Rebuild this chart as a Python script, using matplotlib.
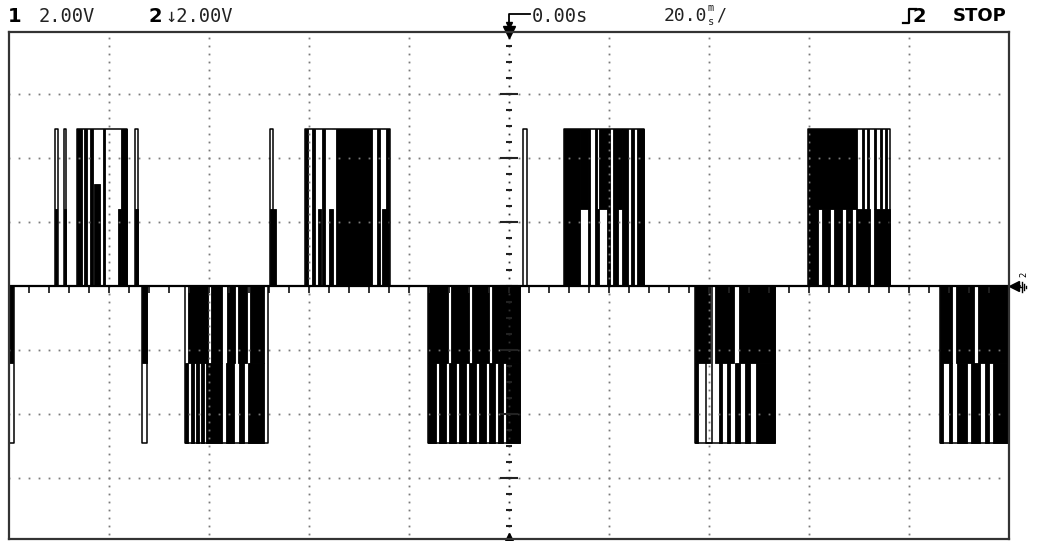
import numpy as np
import matplotlib.pyplot as plt
from matplotlib.patches import Rectangle
from matplotlib.lines import Line2D

# scope settings
t_div = 20.0          # ms / div
v_div = 2.0           # V / div
E1, E2 = 2.4, 4.9     # the two voltage steps of the inverter output

# pulse groups: (t_start ms, t_end ms) where the trace reaches +/-E2 (outlined)
pos_spans = [(-90.8, -90.3), (-89.0, -88.6), (-86.4, -76.4), (-74.8, -74.2),
             (-47.8, -47.2), (-40.8, -23.8),
             (2.8, 3.6), (11.0, 27.0),
             (59.8, 76.2)]
neg_spans = [(-100.0, -99.0), (-73.4, -72.4), (-64.8, -48.2),
             (-16.2, 2.2), (37.2, 53.2), (39.4, 40.6), (86.2, 99.8)]

# solid black columns: (t_start, t_end, v_low, v_high)
blocks = [
    # positive group 1
    (-90.8, -90.4, 0, E1), (-89.0, -88.6, 0, E1), (-86.4, -85.4, 0, E2),
    (-85.0, -84.4, 0, E2), (-83.8, -83.2, 0, E2), (-83.0, -81.8, 0, 3.2),
    (-81.2, -80.8, 0, E2), (-78.2, -77.6, 0, E1), (-77.6, -76.4, 0, E2),
    (-74.8, -74.2, 0, E1),
    # positive group 2
    (-47.8, -46.6, 0, E1), (-40.8, -40.2, 0, E2), (-39.4, -38.8, 0, E2),
    (-38.2, -37.6, 0, E1), (-37.4, -36.8, 0, E2), (-36.0, -35.2, 0, E1),
    (-34.6, -27.4, 0, E2), (-26.4, -25.8, 0, E2), (-25.4, -24.4, 0, E1),
    (-24.6, -24.0, 0, E2),
    # positive group 3
    (11.0, 14.2, 0, E2), (14.2, 15.8, E1, E2), (15.8, 16.2, 0, E2),
    (17.2, 17.6, 0, E2), (18.0, 19.6, E1, E2), (19.6, 20.2, 0, E2),
    (20.8, 21.2, 0, E2), (21.2, 22.6, E1, E2), (22.6, 23.8, 0, E2),
    (24.4, 25.0, 0, E2), (25.6, 27.0, 0, E2), (17.6, 18.0, 0, E1),
    (21.0, 21.8, 0, E1),
    # positive group 4
    (59.8, 69.6, E1, E2), (59.8, 61.8, 0, E1), (62.6, 64.2, 0, E1),
    (65.0, 66.6, 0, E1), (67.4, 68.6, 0, E1), (69.4, 72.2, 0, E1),
    (73.0, 76.2, 0, E1), (70.6, 71.0, E1, E2), (71.6, 72.0, E1, E2),
    (73.0, 73.4, E1, E2), (74.2, 74.6, E1, E2), (75.2, 75.6, E1, E2),
    # negative groups
    (-100.0, -99.2, -E1, 0), (-73.4, -72.4, -E1, 0),
    (-64.2, -60.2, -E1, 0), (-59.6, -57.4, -E1, 0), (-56.4, -54.8, -E1, 0),
    (-54.2, -52.4, -E1, 0), (-51.8, -49.0, -E1, 0),
    (-64.8, -64.2, -E2, -E1), (-63.6, -63.0, -E2, -E1), (-62.6, -62.0, -E2, -E1),
    (-61.6, -61.0, -E2, -E1), (-60.6, -57.4, -E2, -E1), (-56.6, -55.0, -E2, -E1),
    (-54.0, -53.0, -E2, -E1), (-52.2, -49.0, -E2, -E1),
    (-16.2, -12.2, -E1, 0), (-11.6, -8.0, -E1, 0), (-7.4, -4.0, -E1, 0),
    (-3.4, 2.2, -E1, 0),
    (-16.2, -14.6, -E2, -E1), (-14.0, -12.6, -E2, -E1), (-12.0, -10.6, -E2, -E1),
    (-10.0, -8.6, -E2, -E1), (-8.0, -6.6, -E2, -E1), (-6.0, -4.6, -E2, -E1),
    (-4.0, -2.8, -E2, -E1), (-2.2, -1.2, -E2, -E1), (-0.6, 2.2, -E2, -E1),
    (37.2, 40.2, -E1, 0), (41.2, 45.0, -E1, 0), (46.0, 53.2, -E1, 0),
    (37.2, 37.8, -E2, -E1), (42.0, 42.6, -E2, -E1), (43.6, 44.2, -E2, -E1),
    (45.2, 46.2, -E2, -E1), (47.2, 48.2, -E2, -E1), (49.4, 53.2, -E2, -E1),
    (86.2, 88.6, -E1, 0), (89.4, 93.0, -E1, 0), (93.8, 99.8, -E1, 0),
    (86.2, 86.8, -E2, -E1), (88.0, 88.6, -E2, -E1), (89.6, 91.6, -E2, -E1),
    (92.4, 94.2, -E2, -E1), (95.2, 96.0, -E2, -E1), (96.8, 99.8, -E2, -E1),
]

t_min, t_max = -100.0, 100.0
v_min, v_max = -7.9, 7.94

fig = plt.figure(figsize=(10.37, 5.41), dpi=100)
ax = fig.add_axes([9 / 1037, 2 / 541, 1000 / 1037, 507 / 541])
ax.set_xlim(t_min, t_max)
ax.set_ylim(v_min, v_max)
ax.set_xticks([])
ax.set_yticks([])
for s in ax.spines.values():
    s.set_linewidth(1.6)
    s.set_color('#333333')

# dotted graticule
grid_col = '#7a7a7a'
for k in (-4, -3, -2, -1, 1, 2, 3, 4):
    vv = np.arange(-4 * v_div, 4 * v_div + 0.01, v_div / 8)
    ax.plot(np.full_like(vv, k * t_div), vv, ls='none', marker='s', ms=1.3, color=grid_col, mew=0)
for k in (-3, -2, -1, 1, 2, 3):
    tt = np.arange(t_min, t_max + 0.01, t_div / 10)
    ax.plot(tt, np.full_like(tt, k * v_div), ls='none', marker='s', ms=1.3, color=grid_col, mew=0)

# centre axes with tick marks
vv = np.arange(-4 * v_div, 4 * v_div + 0.01, v_div / 8)
ax.plot(np.zeros_like(vv), vv, ls='none', marker='s', ms=1.3, color='#333333', mew=0)
vt = np.arange(-4 * v_div, 4 * v_div + 0.01, v_div / 4)
ax.plot(np.zeros_like(vt), vt, ls='none', marker='_', ms=5, mew=1.5, color='#222222')
ax.plot(np.zeros(7), [-6, -4, -2, 0, 2, 4, 6], ls='none', marker='_', ms=13, mew=1.5,
        color='#222222')
tt = np.arange(t_min, t_max + 0.01, t_div / 5)
ax.plot(tt, np.full_like(tt, -0.12), ls='none', marker='|', ms=4, mew=1.3, color='#222222')

# trace: baseline, outlined pulses, solid blocks
ax.plot([t_min, t_max], [0, 0], color='black', lw=1.6, solid_capstyle='butt')
for t0, t1 in pos_spans:
    ax.plot([t0, t0, t1, t1], [0, E2, E2, 0], color='black', lw=1.1)
for t0, t1 in neg_spans:
    ax.plot([t0, t0, t1, t1], [0, -E2, -E2, 0], color='black', lw=1.1)
for t0, t1, lo, hi in blocks:
    ax.add_patch(Rectangle((t0, lo), t1 - t0, hi - lo, facecolor='black', edgecolor='black', lw=0.6))

# trigger position markers
ax.plot([0], [v_max], marker='v', ms=9, color='black', clip_on=False)
ax.plot([0], [v_min], marker='^', ms=9, color='black', clip_on=False)
# channel 2 ground marker: arrow, "2" and ground sign
ax.plot([t_max + 1.0], [0], marker='<', ms=7, color='black', clip_on=False)
ax.plot([t_max + 1.0, t_max + 2.2], [0, 0], color='black', lw=1.2, clip_on=False)
ax.text(t_max + 3.0, 0.3, '2', fontsize=6, rotation=90, ha='center', va='bottom')
W, H = 1037, 541
for x0, x1, y in [(1022, 1022, (282, 292)), (1024, 1024, (284, 290)), (1026, 1026, (286, 288))]:
    fig.add_artist(Line2D([x0 / W, x1 / W], [1 - y[0] / H, 1 - y[1] / H], color='black', lw=1))
fig.add_artist(Line2D([1017 / W, 1022 / W], [1 - 287 / H, 1 - 287 / H], color='black', lw=1))

# status line
mono = 'DejaVu Sans Mono'
fig.text(8 / W, 1 - 16 / H, '1', fontsize=14, fontweight='bold', family='DejaVu Sans', va='center')
fig.text(39 / W, 1 - 16 / H, '2.00V', fontsize=13.5, family=mono, va='center', color='#222222')
fig.text(148 / W, 1 - 16 / H, '2', fontsize=14, fontweight='bold', family='DejaVu Sans', va='center')
fig.text(165 / W, 1 - 16 / H, '↓2.00V', fontsize=13.5, family=mono, va='center', color='#222222')
fig.add_artist(Line2D([509 / W, 509 / W, 530 / W], [1 - 24 / H, 1 - 14 / H, 1 - 14 / H],
                      color='black', lw=1.3))
ax.plot([0], [v_max + 0.22], marker='v', ms=5, color='black', clip_on=False)
fig.text(532 / W, 1 - 16 / H, '0.00s', fontsize=13.5, family=mono, va='center', color='#222222')
fig.text(664 / W, 1 - 16 / H, '20.0', fontsize=13, family=mono, va='center', color='#222222')
fig.text(708 / W, 1 - 8 / H, 'm', fontsize=7.5, family=mono, va='center', color='#222222')
fig.text(708 / W, 1 - 22 / H, 's', fontsize=7.5, family=mono, va='center', color='#222222')
fig.text(716 / W, 1 - 16 / H, '/', fontsize=12, family=mono, va='center', color='#222222')
fig.add_artist(Line2D([903 / W, 909 / W, 909 / W, 916 / W],
                      [1 - 23 / H, 1 - 23 / H, 1 - 9 / H, 1 - 9 / H], color='black', lw=1.6))
fig.text(913 / W, 1 - 16 / H, '2', fontsize=14, fontweight='bold', family='DejaVu Sans', va='center')
fig.text(953 / W, 1 - 16 / H, 'STOP', fontsize=13, fontweight='bold', family='DejaVu Sans', va='center')

fig.savefig('out.png', dpi=100, facecolor='white')
